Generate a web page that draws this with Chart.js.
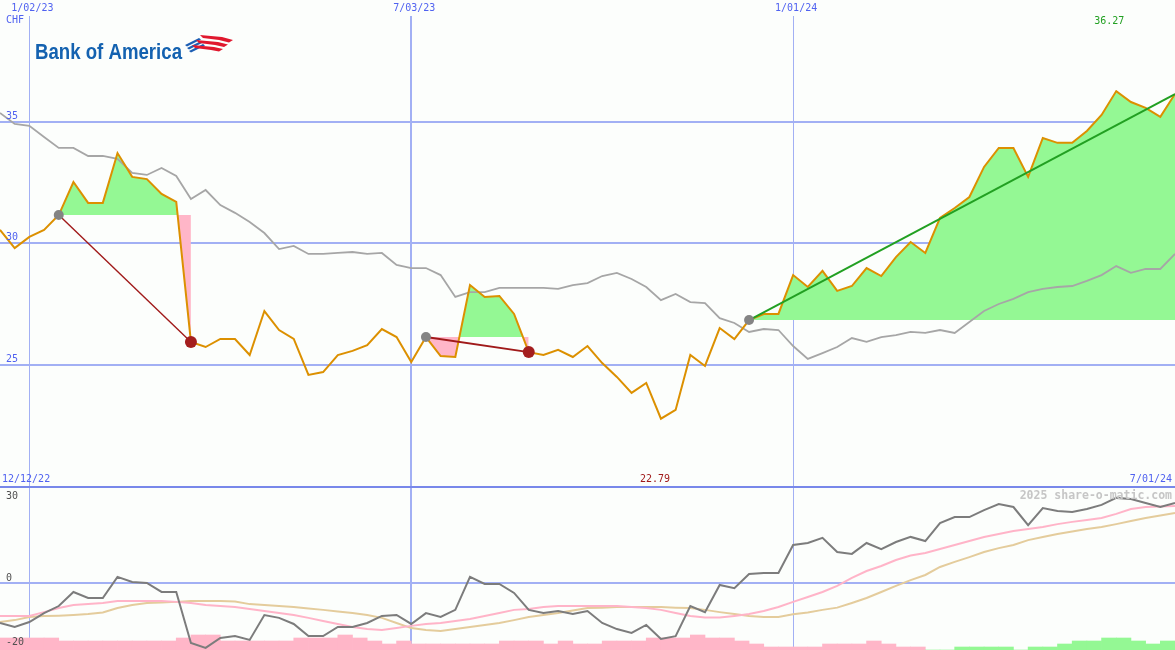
<!DOCTYPE html>
<html>
<head>
<meta charset="utf-8">
<script src="https://cdn.jsdelivr.net/npm/chart.js@4.4.1/dist/chart.umd.min.js"></script>
<style>
  body { margin: 0; background: #fcfefc; }
  #wrap { position: relative; width: 1175px; height: 650px; overflow: hidden; }
  #priceChart { position: absolute; left: 0; top: 0; }
  #oscChart { position: absolute; left: 0; top: 470px; }
</style>
</head>
<body>
<div id="wrap">
  <canvas id="priceChart" width="1175" height="487"></canvas>
  <canvas id="oscChart" width="1175" height="180"></canvas>
</div>
<script>
// weekly closes, 12/19/22 .. 7/01/24
var price = [
  30.56, 29.81, 30.27, 30.56, 31.17, 32.53, 31.67, 31.67, 33.72, 32.74,
  32.65, 32.04, 31.71, 25.95, 25.74, 26.07, 26.07, 25.41, 27.22, 26.44,
  26.07, 24.59, 24.71, 25.41, 25.58, 25.82, 26.48, 26.15, 25.12, 26.15,
  25.37, 25.33, 28.29, 27.80, 27.84, 27.10, 25.53, 25.41, 25.62, 25.33,
  25.78, 25.08, 24.51, 23.85, 24.26, 22.79, 23.15, 25.41, 24.96, 26.52,
  26.07, 26.85, 27.10, 27.10, 28.70, 28.21, 28.87, 28.05, 28.25, 28.99,
  28.66, 29.44, 30.06, 29.61, 31.05, 31.46, 31.91, 33.15, 33.93, 33.93,
  32.74, 34.34, 34.14, 34.14, 34.63, 35.29, 36.27, 35.82, 35.58, 35.21,
  36.15
];
// moving average (grey)
var avg = [
  35.37, 34.92, 34.84, 34.38, 33.93, 33.93, 33.60, 33.60, 33.48, 32.90,
  32.82, 33.11, 32.78, 31.83, 32.20, 31.58, 31.26, 30.88, 30.43, 29.77,
  29.90, 29.57, 29.57, 29.61, 29.65, 29.57, 29.61, 29.12, 28.99, 28.99,
  28.70, 27.80, 28.00, 28.00, 28.17, 28.17, 28.17, 28.17, 28.13, 28.29,
  28.37, 28.66, 28.79, 28.54, 28.21, 27.67, 27.92, 27.59, 27.55, 26.93,
  26.73, 26.36, 26.48, 26.44, 25.78, 25.25, 25.49, 25.74, 26.11, 25.95,
  26.15, 26.23, 26.36, 26.32, 26.44, 26.32, 26.77, 27.22, 27.51, 27.72,
  28.00, 28.13, 28.21, 28.25, 28.46, 28.70, 29.07, 28.79, 28.95, 28.95,
  29.57
];
// oscillator panel
var osc = [
  -12.5, -13.75, -12.2, -9.4, -7.2, -2.8, -4.7, -4.7, 1.9, 0.3,
  0, -2.8, -2.8, -18.75, -20.3, -17.2, -16.6, -17.8, -10, -10.9,
  -12.8, -16.6, -16.6, -13.75, -13.75, -12.5, -10.3, -10, -12.8, -9.4,
  -10.6, -8.4, 1.9, -0.3, -0.3, -3.1, -8.4, -9.4, -8.75, -9.7,
  -8.75, -12.5, -14.4, -15.6, -13.1, -17.5, -16.6, -7.2, -9.1, -0.6,
  -1.6, 2.8, 3.1, 3.1, 11.9, 12.5, 14.1, 9.7, 9.1, 12.5,
  10.6, 12.8, 14.4, 13.1, 18.75, 20.6, 20.6, 22.8, 24.7, 23.75,
  18.1, 23.4, 22.5, 22.2, 23.1, 24.4, 26.6, 26.25, 25, 23.75,
  25
];
var oscFast = [
  -10.3, -10.3, -10.3, -9.1, -7.8, -6.9, -6.6, -6.25, -5.6, -5.6,
  -5.6, -5.6, -5.9, -6.25, -6.9, -7.2, -7.5, -8.1, -8.75, -9.4,
  -10, -10.9, -11.9, -12.8, -13.75, -14.4, -14.7, -14.1, -13.4, -12.8,
  -12.5, -11.9, -11.25, -10.3, -9.4, -8.4, -8.1, -7.5, -7.2, -7.2,
  -7.2, -7.2, -7.2, -7.5, -7.8, -8.4, -9.4, -10.3, -10.8, -10.8,
  -10.3, -9.7, -8.75, -7.5, -5.9, -4.4, -2.8, -0.9, 1.6, 3.75,
  5.3, 7.2, 8.6, 9.4, 10.6, 11.9, 13.1, 14.4, 15.3, 16.25,
  16.9, 17.5, 18.4, 19.1, 19.7, 20.3, 21.6, 23.1, 23.75, 23.9,
  24.1
];
var oscSlow = [
  -12.2, -11.6, -10.6, -10.3, -10.2, -10, -9.7, -9.2, -7.8, -6.9,
  -6.25, -6.1, -5.9, -5.6, -5.6, -5.6, -5.8, -6.6, -6.9, -7.2,
  -7.5, -8, -8.4, -8.9, -9.4, -10, -10.9, -12.5, -14.1, -14.7,
  -15, -14.4, -13.75, -13.1, -12.5, -11.6, -10.6, -10, -9.4, -8.6,
  -7.8, -7.7, -7.5, -7.5, -7.5, -7.5, -7.7, -7.8, -8.4, -9.1,
  -9.7, -10.3, -10.6, -10.6, -9.8, -9.2, -8.4, -7.7, -6.25, -4.7,
  -2.8, -0.9, 0.9, 2.5, 5, 6.6, 8.1, 9.7, 10.9, 11.9,
  13.4, 14.4, 15.3, 16.1, 16.9, 17.5, 18.4, 19.4, 20.3, 21.1,
  21.9
];
// histogram, one bar per week (negative = pink)
var hist = [
  -4, -4, -4, -4, -3, -3, -3, -3, -3, -3,
  -3, -3, -4, -5, -5, -3, -3, -3, -3, -3,
  -4, -4, -4, -5, -4, -3, -2, -3, -2, -2,
  -2, -2, -2, -2, -3, -3, -3, -2, -3, -2,
  -2, -3, -3, -3, -4, -4, -4, -5, -4, -4,
  -3, -2, -1, -1, -1, -1, -2, -2, -2, -3,
  -2, -1, -1, 0, 0, 1, 1, 1, 1, 0,
  1, 1, 2, 3, 3, 4, 4, 3, 2, 3
];
// trades: [entry week, exit week]; last one still open
var trades = [[4, 13], [29, 36], [51, 80]];
var openTrade = 2;

var dateIdx = [2, 28, 54];
var dateLabels = ["1/02/23", "7/03/23", "1/01/24"];
var rangeLabels = ["12/12/22", "7/01/24"];
var priceTicks = [25, 30, 35];
var oscTicks = [30, 0, -20];

var GREEN = "#94f894", PINK = "#ffb6c8", GRID = "#a2b0f4", BLUE = "#5062f0";
var MONO = '"DejaVu Sans Mono", monospace';

function pts(arr, from, to) {
  var out = [];
  for (var i = from; i <= to && i < arr.length; i++) out.push({ x: i, y: arr[i] });
  return out;
}

var priceSets = [];
trades.forEach(function (t) {
  priceSets.push({
    data: pts(price, t[0], t[1]),
    borderWidth: 0,
    borderColor: "rgba(0,0,0,0)",
    fill: { target: { value: price[t[0]] }, above: GREEN, below: PINK },
    order: 6,
  });
});
priceSets.push({ data: pts(avg, 0, 80), borderColor: "#a6a6a6", borderWidth: 1.8, order: 4 });
priceSets.push({ data: pts(price, 0, 80), borderColor: "#dc9000", borderWidth: 2, order: 3 });
trades.forEach(function (t, k) {
  priceSets.push({
    data: [{ x: t[0], y: price[t[0]] }, { x: t[1], y: price[t[1]] }],
    borderColor: k == openTrade ? "#22a022" : "#a01a1a",
    borderWidth: k == 0 ? 1.4 : 2,
    order: 2,
  });
  priceSets.push({
    data: [{ x: t[0], y: price[t[0]] }],
    showLine: false, pointRadius: 5, backgroundColor: "#848484", borderWidth: 0, order: 1,
  });
  if (k != openTrade) {
    priceSets.push({
      data: [{ x: t[1], y: price[t[1]] }],
      showLine: false, pointRadius: 6, backgroundColor: "#a41e1e", borderWidth: 0, order: 1,
    });
  }
});

// text + logo for the price panel
const priceText = {
  id: "priceText",
  afterDraw(chart) {
    const { ctx, chartArea: { top }, scales: { x, y } } = chart;
    ctx.save();
    ctx.font = "10px " + MONO;
    ctx.fillStyle = BLUE;
    ctx.textBaseline = "middle";
    ctx.textAlign = "center";
    dateIdx.forEach(function (d, i) {
      ctx.fillText(dateLabels[i], x.getPixelForValue(d) + 3, 8);
    });
    ctx.textAlign = "left";
    ctx.fillText("CHF", 6, top + 4);
    priceTicks.forEach(function (v) {
      ctx.fillText(String(v), 6, y.getPixelForValue(v) - 6);
    });
    // high
    var hi = Math.max.apply(null, price);
    ctx.fillStyle = "#22a022";
    ctx.textAlign = "center";
    ctx.fillText(hi.toFixed(2), x.getPixelForValue(price.indexOf(hi)) - 7, top + 5);

    // logo
    ctx.fillStyle = "#1462b0";
    ctx.font = 'bold 22px "Liberation Sans Narrow", "Liberation Sans", sans-serif';
    ctx.textAlign = "left";
    ctx.textBaseline = "alphabetic";
    var w = ctx.measureText("Bank of America").width;
    ctx.save();
    ctx.translate(35, 59);
    ctx.scale(147 / w, 1);
    ctx.fillText("Bank of America", 0, 0);
    ctx.restore();
    // flag
    ctx.fillStyle = "#1e5fb4";
    for (var k = 0; k < 3; k++) {
      ctx.beginPath();
      ctx.moveTo(185 + k * 2, 45 + k * 3);
      ctx.lineTo(199 + k * 2, 38 + k * 3);
      ctx.lineTo(201 + k * 2, 39.5 + k * 3);
      ctx.lineTo(187 + k * 2, 46.5 + k * 3);
      ctx.closePath();
      ctx.fill();
    }
    ctx.fillStyle = "#e0182e";
    for (var k = 0; k < 3; k++) {
      ctx.beginPath();
      ctx.moveTo(200 - k * 4, 35 + k * 5);
      ctx.lineTo(222 - k * 4, 37 + k * 5);
      ctx.lineTo(233 - k * 5, 40 + k * 4.5);
      ctx.lineTo(229 - k * 5, 42.5 + k * 4.5);
      ctx.lineTo(219 - k * 4, 40 + k * 5);
      ctx.lineTo(203 - k * 4, 38 + k * 5);
      ctx.closePath();
      ctx.fill();
    }
    ctx.restore();
  },
};

var xAxis = {
  type: "linear", min: 0, max: 80, offset: false,
  afterBuildTicks: function (s) { s.ticks = dateIdx.map(function (v) { return { value: v }; }); },
  ticks: { display: false },
  border: { display: false },
  grid: { drawTicks: false, offset: false, color: GRID, lineWidth: function (c) { return c.index === 1 ? 2 : 1; } },
};

new Chart(document.getElementById("priceChart"), {
  type: "line",
  data: { datasets: priceSets },
  options: {
    responsive: false,
    animation: false,
    layout: { padding: { top: 16 }, autoPadding: false },
    elements: { line: { tension: 0 }, point: { radius: 0 } },
    plugins: { legend: { display: false }, tooltip: { enabled: false } },
    scales: {
      x: Object.assign({}, xAxis, { position: "top" }),
      y: {
        min: 19.98, max: 39.36,
        afterBuildTicks: function (s) { s.ticks = priceTicks.map(function (v) { return { value: v }; }); },
        ticks: { display: false },
        border: { display: false },
        grid: { drawTicks: false, color: GRID, lineWidth: 2 },
      },
    },
  },
  plugins: [priceText],
});

// oscillator panel text
const oscText = {
  id: "oscText",
  afterDraw(chart) {
    const { ctx, chartArea: { top, right }, scales: { x, y } } = chart;
    ctx.save();
    ctx.font = "10px " + MONO;
    ctx.textBaseline = "middle";
    ctx.fillStyle = BLUE;
    ctx.textAlign = "left";
    ctx.fillText(rangeLabels[0], 2, top - 8);
    ctx.textAlign = "right";
    ctx.fillText(rangeLabels[1], right - 3, top - 8);
    var lo = Math.min.apply(null, price);
    ctx.fillStyle = "#a01a1a";
    ctx.textAlign = "center";
    ctx.fillText(lo.toFixed(2), x.getPixelForValue(price.indexOf(lo)) - 6, top - 8);
    ctx.fillStyle = "#505050";
    ctx.textAlign = "left";
    oscTicks.forEach(function (v) {
      var py = y.getPixelForValue(v) - 5;
      if (py < top + 6) py = top + 9;
      ctx.fillText(String(v), 6, py);
    });
    ctx.font = "bold 11.5px " + MONO;
    ctx.fillStyle = "#c6c6c6";
    ctx.textAlign = "right";
    ctx.fillText("2025 share-o-matic.com", right - 3, top + 9);
    ctx.restore();
  },
};

new Chart(document.getElementById("oscChart"), {
  type: "line",
  data: {
    datasets: [
      {
        type: "bar",
        yAxisID: "h",
        data: hist.map(function (v, i) { return { x: i + 0.5, y: Math.abs(v) }; }),
        backgroundColor: hist.map(function (v) { return v < 0 ? PINK : GREEN; }),
        borderWidth: 0,
        barPercentage: 1,
        categoryPercentage: 1,
        order: 6,
      },
      { data: pts(oscSlow, 0, 80), borderColor: "#e4cc9c", borderWidth: 2, order: 3 },
      { data: pts(oscFast, 0, 80), borderColor: "#ffb4c8", borderWidth: 2, order: 2 },
      { data: pts(osc, 0, 80), borderColor: "#7c7c7c", borderWidth: 2, order: 1 },
    ],
  },
  options: {
    responsive: false,
    animation: false,
    layout: { padding: { top: 17 }, autoPadding: false },
    elements: { line: { tension: 0 }, point: { radius: 0 } },
    plugins: { legend: { display: false }, tooltip: { enabled: false } },
    scales: {
      x: xAxis,
      y: {
        min: -20.94, max: 30,
        afterBuildTicks: function (s) { s.ticks = oscTicks.map(function (v) { return { value: v }; }); },
        ticks: { display: false },
        border: { display: false },
        grid: {
          drawTicks: false, lineWidth: 2,
          color: function (c) { return c.tick.value === 30 ? "#7888ea" : c.tick.value === 0 ? GRID : "rgba(0,0,0,0)"; },
        },
      },
      h: { display: false, min: 0, max: 54.33 },
    },
  },
  plugins: [oscText],
});
</script>
</body>
</html>
